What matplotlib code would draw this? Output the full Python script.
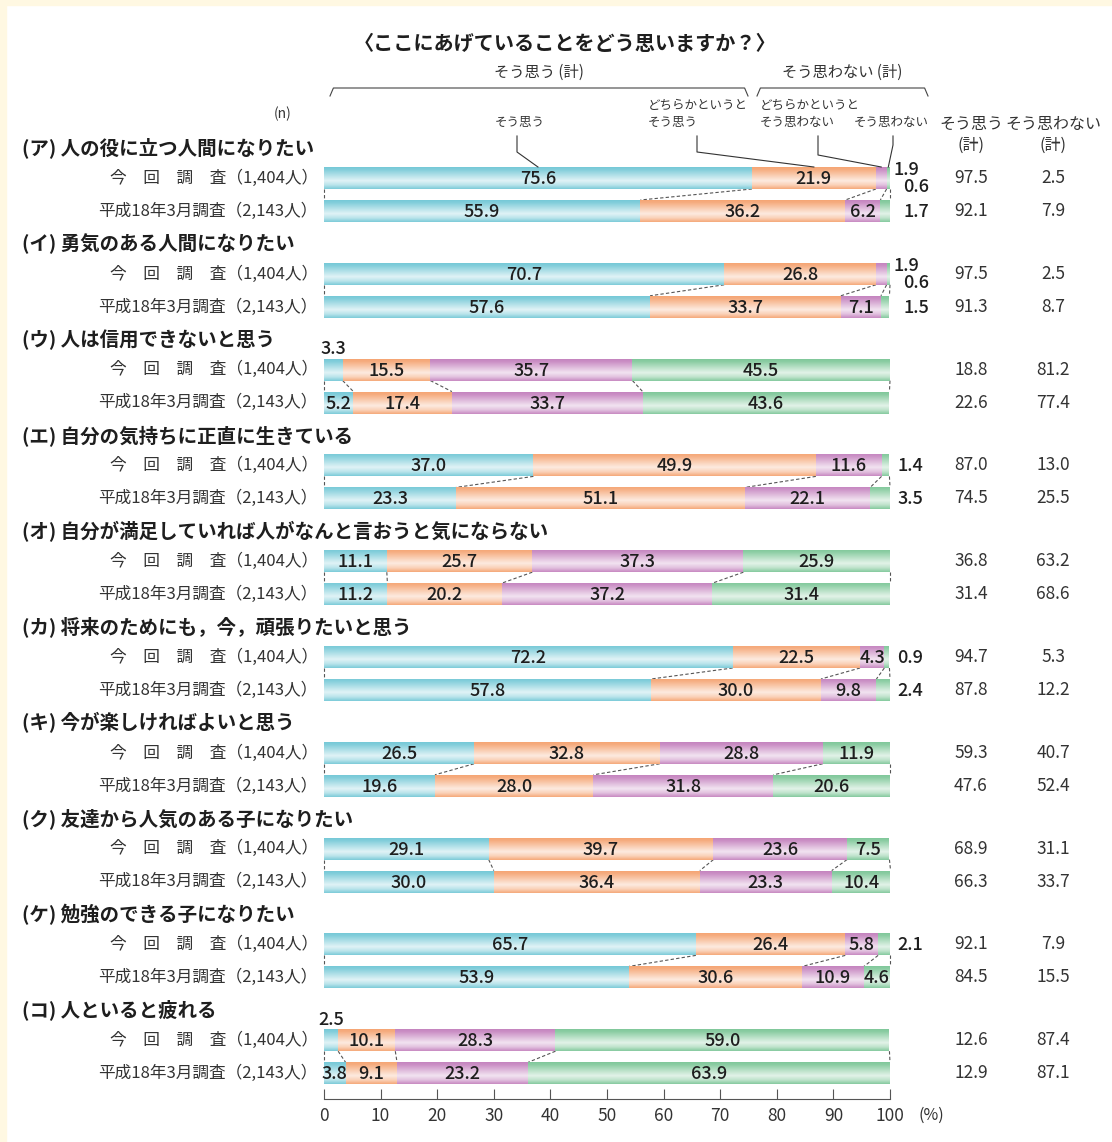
import numpy as np
import matplotlib
matplotlib.use('Agg')
from matplotlib import pyplot as plt
from matplotlib.patches import Rectangle

plt.rcParams['font.family'] = ['Noto Sans CJK JP', 'DejaVu Sans']

# ---- data ----
questions = ['(ア) 人の役に立つ人間になりたい',
             '(イ) 勇気のある人間になりたい',
             '(ウ) 人は信用できないと思う',
             '(エ) 自分の気持ちに正直に生きている',
             '(オ) 自分が満足していれば人がなんと言おうと気にならない',
             '(カ) 将来のためにも，今，頑張りたいと思う',
             '(キ) 今が楽しければよいと思う',
             '(ク) 友達から人気のある子になりたい',
             '(ケ) 勉強のできる子になりたい',
             '(コ) 人といると疲れる']
surveys = ['今　回　調　査（1,404人）', '平成18年3月調査（2,143人）']
categories = ['そう思う', 'どちらかというと\nそう思う',
              'どちらかというと\nそう思わない', 'そう思わない']

# current survey (今回調査), columns = categories
current = [[75.6, 21.9, 1.9, 0.6],
           [70.7, 26.8, 1.9, 0.6],
           [3.3, 15.5, 35.7, 45.5],
           [37.0, 49.9, 11.6, 1.4],
           [11.1, 25.7, 37.3, 25.9],
           [72.2, 22.5, 4.3, 0.9],
           [26.5, 32.8, 28.8, 11.9],
           [29.1, 39.7, 23.6, 7.5],
           [65.7, 26.4, 5.8, 2.1],
           [2.5, 10.1, 28.3, 59.0]]
# previous survey (平成18年3月調査)
previous = [[55.9, 36.2, 6.2, 1.7],
            [57.6, 33.7, 7.1, 1.5],
            [5.2, 17.4, 33.7, 43.6],
            [23.3, 51.1, 22.1, 3.5],
            [11.2, 20.2, 37.2, 31.4],
            [57.8, 30.0, 9.8, 2.4],
            [19.6, 28.0, 31.8, 20.6],
            [30.0, 36.4, 23.3, 10.4],
            [53.9, 30.6, 10.9, 4.6],
            [3.8, 9.1, 23.2, 63.9]]

agree_cur = [97.5, 97.5, 18.8, 87.0, 36.8, 94.7, 59.3, 68.9, 92.1, 12.6]
disagree_cur = [2.5, 2.5, 81.2, 13.0, 63.2, 5.3, 40.7, 31.1, 7.9, 87.4]
agree_prev = [92.1, 91.3, 22.6, 74.5, 31.4, 87.8, 47.6, 66.3, 84.5, 12.9]
disagree_prev = [7.9, 8.7, 77.4, 25.5, 68.6, 12.2, 52.4, 33.7, 15.5, 87.1]

colors = ['#76c9d7', '#f5a574', '#c584bf', '#80c89a']
textc = '#1e1e1e'

W, H = 1112, 1142
fig = plt.figure(figsize=(W / 100, H / 100), dpi=100)
fig.patch.set_facecolor('white')
# cream frame on left/top
fig.patches.append(Rectangle((0, 0), 6 / W, 1, transform=fig.transFigure,
                             color='#fff8e2', zorder=0))
fig.patches.append(Rectangle((0, 1 - 5 / H), 1, 5 / H, transform=fig.transFigure,
                             color='#fff8e2', zorder=0))

# axes geometry: x 0..100 -> px 324..890, one y unit = 33 px, first bar at px 178
unit = 33.0
y_top, y_bot = (160 - 178) / unit, (1099 - 178) / unit
ax = fig.add_axes([324 / W, 1 - 1099 / H, 566 / W, (1099 - 160) / H])
ax.set_facecolor('none')

gap = 95.8 / unit
bh = 22 / unit

# white sheen on the bars
rows = np.linspace(0, 1, 60)
alpha = np.interp(rows, [0, 0.12, 0.62, 0.82, 1.0], [0.0, 0.1, 0.78, 0.5, 0.05])
sheen = np.ones((60, 1, 4))
sheen[:, 0, 3] = alpha

for i in range(len(questions)):
    ys = [i * gap, i * gap + 1]
    for r, vals in enumerate([current[i], previous[i]]):
        left = 0
        for k, v in enumerate(vals):
            ax.barh(ys[r], v, left=left, height=bh, color=colors[k],
                    linewidth=0, zorder=2)
            left += v
        ax.imshow(sheen, extent=(0, left, ys[r] + bh / 2, ys[r] - bh / 2),
                  origin='upper', aspect='auto', zorder=3, interpolation='bilinear')

        # value labels
        left = 0
        purple_out = vals[2] < 3.8
        for k, v in enumerate(vals):
            mid = left + v / 2
            if v >= 3.8:
                ax.text(mid, ys[r] + 0.03, '{:.1f}'.format(v), ha='center',
                        va='center', fontsize=13, color=textc,
                        weight='medium', zorder=5)
            elif k == 0:
                ax.text(mid, ys[r] - bh / 2 - 0.02, '{:.1f}'.format(v),
                        ha='center', va='bottom', fontsize=13, color=textc,
                        weight='medium', zorder=5)
            elif k == 2:
                ax.text(100.6, ys[r] - 0.25, '{:.1f}'.format(v), ha='left',
                        va='center', fontsize=13, color=textc,
                        weight='medium', zorder=5)
            else:
                dy = 0.27 if (purple_out and r == 0) else 0.03
                dx = 102.3 if (purple_out or r == 1 and vals[3] < 2) else 101.3
                ax.text(dx, ys[r] + dy, '{:.1f}'.format(v), ha='left',
                        va='center', fontsize=13, color=textc,
                        weight='medium', zorder=5)
            left += v

    # dashed connectors between the two bars
    c1 = np.concatenate([[0], np.cumsum(current[i])])
    c2 = np.concatenate([[0], np.cumsum(previous[i])])
    for a, b in zip(c1, c2):
        ax.plot([a, b], [ys[0] + bh / 2, ys[1] - bh / 2], ls=(0, (3, 2)),
                color='#555555', lw=0.8, zorder=1, clip_on=False)

    # texts left and right
    ax.text(-53.4, ys[0] - 0.91, questions[i], ha='left', va='center',
            fontsize=14, weight='bold', color=textc, clip_on=False)
    for r in range(2):
        ax.text(-1.1, ys[r], surveys[r], ha='right', va='center',
                fontsize=12, color='#333333', clip_on=False)
    ax.text(114.3, ys[0], '{:.1f}'.format(agree_cur[i]), ha='center',
            va='center', fontsize=12.5, color='#333333', clip_on=False)
    ax.text(128.8, ys[0], '{:.1f}'.format(disagree_cur[i]), ha='center',
            va='center', fontsize=12.5, color='#333333', clip_on=False)
    ax.text(114.3, ys[1], '{:.1f}'.format(agree_prev[i]), ha='center',
            va='center', fontsize=12.5, color='#333333', clip_on=False)
    ax.text(128.8, ys[1], '{:.1f}'.format(disagree_prev[i]), ha='center',
            va='center', fontsize=12.5, color='#333333', clip_on=False)

# ---- header ----
py = lambda p: (p - 178) / unit
px = lambda p: (p - 324) / 5.66

ax.text(px(565), py(44), '〈ここにあげていることをどう思いますか？〉', ha='center',
        va='center', fontsize=14.5, weight='bold', color=textc, clip_on=False)

# brackets
for (x0, x1, lab) in [(px(330), px(748), 'そう思う (計)'),
                      (px(757), px(928), 'そう思わない (計)')]:
    ax.plot([x0, x0 + 0.6, x1 - 0.6, x1],
            [py(96), py(88), py(88), py(96)], color='#444444', lw=0.8,
            clip_on=False)
    ax.text((x0 + x1) / 2, py(72), lab, ha='center', va='center',
            fontsize=11, color='#333333', clip_on=False)

# leader lines to the first bar
ends = np.cumsum(current[0]) - np.array(current[0]) / 2
leader_x = [px(517), px(697), px(818), px(893)]
label_x = [px(495), px(648), px(760), px(854)]
bend_y = [py(152), py(152), py(155), py(145)]
for k in range(4):
    ax.text(label_x[k], py(129), categories[k], ha='left', va='bottom',
            fontsize=9, color='#333333', linespacing=1.45, clip_on=False)
    ax.plot([leader_x[k], leader_x[k], ends[k]],
            [py(136), bend_y[k], -bh / 2], color='#333333', lw=0.8,
            clip_on=False)

ax.text(px(283), py(114), '(n)', ha='center', va='center', fontsize=10,
        color='#333333', clip_on=False)
ax.text(114.3, py(135), 'そう思う\n(計)', ha='center', va='center',
        fontsize=11.5, color='#333333', linespacing=1.3, clip_on=False)
ax.text(128.8, py(135), 'そう思わない\n(計)', ha='center', va='center',
        fontsize=11.5, color='#333333', linespacing=1.3, clip_on=False)

# ---- axis ----
ax.set_xlim(0, 100)
ax.set_ylim(y_bot, y_top)
ax.set_yticks([])
ax.set_xticks(range(0, 101, 10))
ax.tick_params(axis='x', direction='in', length=7, width=0.8, color='#555555',
               labelsize=12.5, labelcolor='#333333', pad=6)
for s in ['top', 'left', 'right']:
    ax.spines[s].set_visible(False)
ax.spines['bottom'].set_color('#555555')
ax.spines['bottom'].set_linewidth(0.8)
ax.text(107.3, py(1115), '(%)', ha='center', va='center', fontsize=11.5,
        color='#333333', clip_on=False)

fig.savefig('out.png', dpi=100)
